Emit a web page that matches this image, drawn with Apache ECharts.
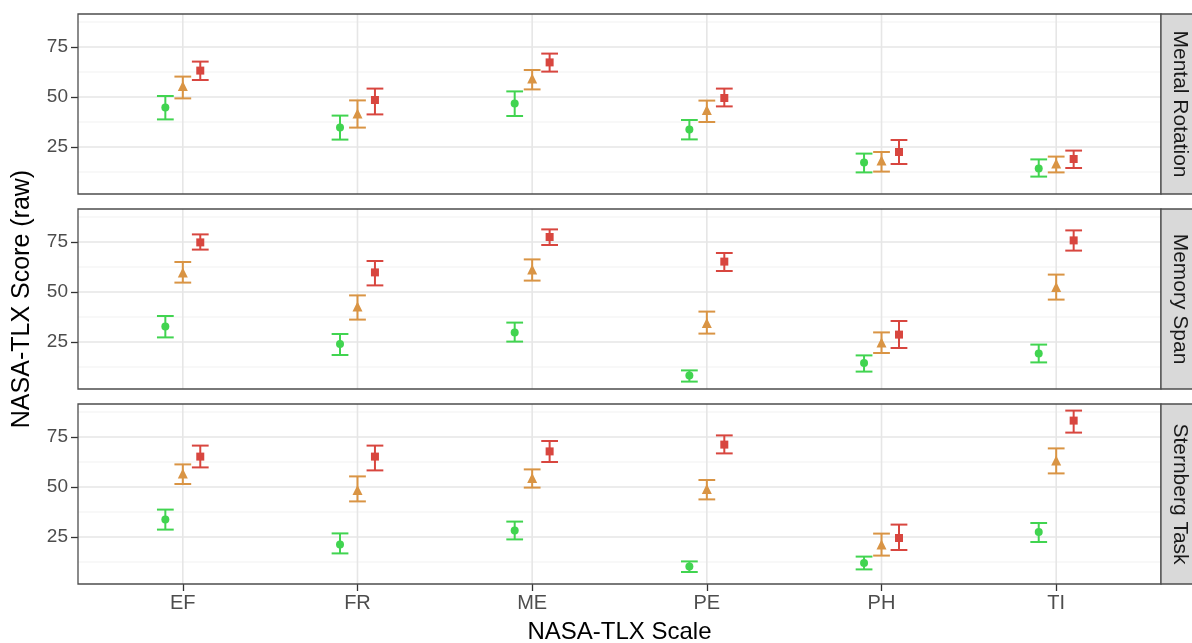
<!DOCTYPE html>
<html>
<head>
<meta charset="utf-8">
<script src="https://cdn.jsdelivr.net/npm/echarts@6/dist/echarts.min.js"></script>
<style>
  html, body { margin: 0; padding: 0; background: #ffffff; }
  #chart { width: 1192px; height: 643px; }
</style>
</head>
<body>
<div id="chart"></div>
<script>
// NASA-TLX subscale scores by task and load level: each entry is [lower, mean, upper]
const categories = ['EF', 'FR', 'ME', 'PE', 'PH', 'TI'];
const panelNames = ['Mental Rotation', 'Memory Span', 'Sternberg Task'];
const yTickValues = [25, 50, 75];
const yMinorValues = [12.5, 37.5, 62.5, 87.5];

const mentalRotationLow  = [[38.8, 44.8, 50.5], [28.7, 34.7, 40.7], [40.5, 46.8, 52.8], [28.8, 33.8, 38.5], [12.3, 17.2, 21.7], [10.2, 14.3, 18.8]];
const mentalRotationMid  = [[49.3, 55.5, 60.2], [34.7, 41.8, 48.3], [53.8, 59.2, 63.5], [37.5, 43.5, 48.2], [12.7, 18.2, 22.5], [12.3, 16.8, 20.2]];
const mentalRotationHigh = [[58.5, 63.2, 67.7], [41.3, 48.5, 54.2], [62.7, 67.3, 71.7], [45.3, 49.5, 54.2], [16.5, 22.5, 28.5], [14.5, 19.0, 23.2]];

const memorySpanLow  = [[27.3, 32.7, 38.0], [18.5, 24.0, 29.0], [25.2, 29.8, 34.7], [5.2, 8.2, 10.8], [10.2, 14.5, 18.3], [14.8, 19.2, 23.7]];
const memorySpanMid  = [[54.7, 59.8, 65.0], [36.2, 42.8, 48.3], [55.7, 61.2, 66.3], [29.2, 34.5, 40.2], [19.5, 24.8, 29.8], [46.2, 52.5, 58.7]];
const memorySpanHigh = [[71.2, 74.8, 78.8], [53.3, 59.8, 65.5], [73.5, 77.5, 81.3], [60.5, 65.2, 69.5], [22.0, 28.7, 35.5], [70.7, 75.8, 80.8]];

const sternbergLow  = [[28.7, 33.8, 38.7], [16.8, 21.3, 26.8], [23.8, 28.3, 32.7], [7.5, 10.2, 12.8], [8.8, 12.0, 15.2], [22.5, 27.5, 32.0]];
const sternbergMid  = [[51.5, 56.8, 61.3], [42.8, 48.5, 55.3], [49.7, 54.5, 58.8], [43.8, 49.0, 53.5], [15.7, 21.2, 26.7], [56.8, 63.2, 69.3]];
const sternbergHigh = [[59.8, 65.2, 70.7], [58.3, 65.2, 70.7], [62.5, 67.8, 73.0], [66.8, 71.2, 75.8], [18.5, 24.5, 31.2], [77.2, 83.2, 88.2]];

const panelData = [
  [mentalRotationLow, mentalRotationMid, mentalRotationHigh],
  [memorySpanLow, memorySpanMid, memorySpanHigh],
  [sternbergLow, sternbergMid, sternbergHigh]
];

// group styling: low / mid / high load
const groupColors = ['#41d450', '#d99444', '#d8463f'];
const groupSymbols = ['circle', 'triangle', 'rect'];
const groupSymbolSizes = [8, 10, 8];
const dodge = [-0.1, 0, 0.1];

const FONT = 'Liberation Sans, Arial, Helvetica, sans-serif';
const PANEL_LEFT = 78;
const PANEL_RIGHT = 31;
const PANEL_TOPS = [14, 209, 404];
const PANEL_HEIGHT = 180;
const Y_MIN = 1.5, Y_MAX = 91.5;
const X_MIN = 0.4, X_MAX = 6.6;

const chart = echarts.init(document.getElementById('chart'), null, { renderer: 'canvas' });

const grids = [], xAxes = [], yAxes = [], series = [], graphics = [];

panelNames.forEach((name, p) => {
  const isBottom = p === panelNames.length - 1;
  grids.push({
    left: PANEL_LEFT, right: PANEL_RIGHT, top: PANEL_TOPS[p], height: PANEL_HEIGHT,
    containLabel: false, outerBoundsMode: 'none',
    show: true, backgroundColor: 'transparent', borderColor: '#4d4d4d', borderWidth: 1.3, z: 5
  });
  xAxes.push({
    type: 'value', gridIndex: p, min: X_MIN, max: X_MAX,
    axisLine: { show: false },
    splitLine: { show: false },
    axisTick: { show: isBottom, customValues: categories.map((c, i) => i + 1), length: 7, lineStyle: { color: '#333333', width: 1.3 } },
    axisLabel: {
      show: isBottom, customValues: categories.map((c, i) => i + 1), margin: 9,
      formatter: v => categories[Math.round(v) - 1] || '',
      color: '#4d4d4d', fontSize: 20, fontFamily: FONT
    },
    name: isBottom ? 'NASA-TLX Scale' : '',
    nameLocation: 'middle', nameGap: 36,
    nameTextStyle: { color: '#000000', fontSize: 24, fontFamily: FONT, verticalAlign: 'top' }
  });
  yAxes.push({
    type: 'value', gridIndex: p, min: Y_MIN, max: Y_MAX,
    axisLine: { show: false },
    splitLine: { show: false },
    axisTick: { show: true, customValues: yTickValues, length: 7, lineStyle: { color: '#333333', width: 1.3 } },
    axisLabel: { customValues: yTickValues, margin: 10, color: '#4d4d4d', fontSize: 19, fontFamily: FONT }
  });

  // panel gridlines: [orientation (0 = horizontal, 1 = vertical), value, major flag]
  const gridData = [];
  yMinorValues.forEach(v => gridData.push([0, v, 0]));
  yTickValues.forEach(v => gridData.push([0, v, 1]));
  categories.forEach((c, i) => gridData.push([1, i + 1, 1]));
  series.push({
    type: 'custom', xAxisIndex: p, yAxisIndex: p, silent: true, z: 1,
    data: gridData,
    encode: { x: -1, y: -1 },
    renderItem: (params, api) => {
      const orient = api.value(0), v = api.value(1), major = api.value(2);
      let a, b;
      if (orient === 0) {
        a = api.coord([X_MIN, v]); b = api.coord([X_MAX, v]);
      } else {
        a = api.coord([v, Y_MIN]); b = api.coord([v, Y_MAX]);
      }
      return {
        type: 'line',
        shape: { x1: a[0], y1: a[1], x2: b[0], y2: b[1] },
        style: { stroke: major ? '#e6e6e6' : '#f1f1f1', lineWidth: major ? 1.6 : 1.1 }
      };
    }
  });

  panelData[p].forEach((group, g) => {
    const barData = group.map((d, i) => [i + 1 + dodge[g], d[0], d[2]]);
    const pointData = group.map((d, i) => [i + 1 + dodge[g], d[1]]);
    series.push({
      type: 'custom', xAxisIndex: p, yAxisIndex: p, silent: true, z: 2,
      data: barData,
      encode: { x: 0, y: [1, 2] },
      renderItem: (params, api) => {
        const x = api.value(0);
        const lo = api.coord([x, api.value(1)]);
        const hi = api.coord([x, api.value(2)]);
        const half = api.size([0.048, 0])[0];
        const st = { stroke: groupColors[g], lineWidth: 2 };
        return {
          type: 'group',
          children: [
            { type: 'line', shape: { x1: lo[0], y1: lo[1], x2: hi[0], y2: hi[1] }, style: st },
            { type: 'line', shape: { x1: lo[0] - half, y1: lo[1], x2: lo[0] + half, y2: lo[1] }, style: st },
            { type: 'line', shape: { x1: hi[0] - half, y1: hi[1], x2: hi[0] + half, y2: hi[1] }, style: st }
          ]
        };
      }
    });
    series.push({
      type: 'scatter', xAxisIndex: p, yAxisIndex: p, silent: true, z: 3,
      data: pointData,
      symbol: groupSymbols[g], symbolSize: groupSymbolSizes[g],
      itemStyle: { color: groupColors[g], opacity: 1 }
    });
  });

  // facet strip on the right side of each panel
  const stripTop = PANEL_TOPS[p];
  graphics.push({
    type: 'rect', silent: true, z: 10,
    shape: { x: 1192 - PANEL_RIGHT, y: stripTop, width: 44, height: PANEL_HEIGHT },
    style: { fill: '#d9d9d9', stroke: '#4d4d4d', lineWidth: 1.3 }
  });
  graphics.push({
    type: 'text', silent: true, z: 11,
    x: 1180, y: stripTop + PANEL_HEIGHT / 2, rotation: -Math.PI / 2,
    style: { text: name, fill: '#1a1a1a', fontSize: 21, fontFamily: FONT, align: 'center', verticalAlign: 'middle' }
  });
});

graphics.push({
  type: 'text', silent: true, z: 11,
  x: 22, y: (PANEL_TOPS[0] + PANEL_TOPS[2] + PANEL_HEIGHT) / 2, rotation: Math.PI / 2,
  style: { text: 'NASA-TLX Score (raw)', fill: '#000000', fontSize: 25, fontFamily: FONT, align: 'center', verticalAlign: 'middle' }
});

chart.setOption({
  animation: false,
  backgroundColor: '#ffffff',
  grid: grids,
  xAxis: xAxes,
  yAxis: yAxes,
  series: series,
  graphic: graphics
});
</script>
</body>
</html>
